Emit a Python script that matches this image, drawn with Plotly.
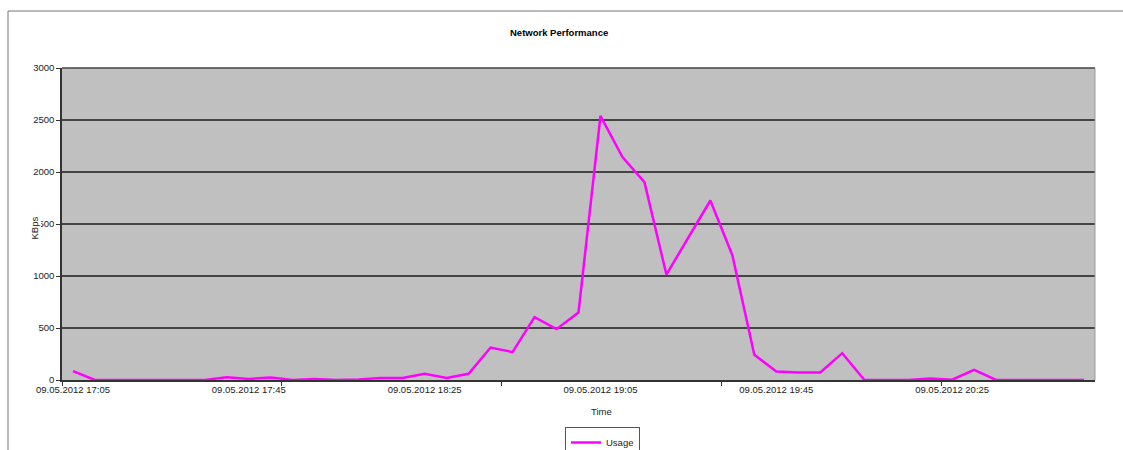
import plotly.graph_objects as go

# Sample times (5-minute intervals on 09.05.2012)
times = [
    "17:05", "17:10", "17:15", "17:20", "17:25", "17:30", "17:35", "17:40",
    "17:45", "17:50", "17:55", "18:00", "18:05", "18:10", "18:15", "18:20",
    "18:25", "18:30", "18:35", "18:40", "18:45", "18:50", "18:55", "19:00",
    "19:05", "19:10", "19:15", "19:20", "19:25", "19:30", "19:35", "19:40",
    "19:45", "19:50", "19:55", "20:00", "20:05", "20:10", "20:15", "20:20",
    "20:25", "20:30", "20:35", "20:40", "20:45", "20:50", "20:55",
]
day = "2012-05-09"

# Network usage in KBps
usage = [
    85, 0, 0, 0, 0, 0, 0, 27, 10, 25, 0, 10, 0, 5, 20, 20,
    60, 20, 60, 312, 268, 604, 489, 649, 2540, 2143, 1902, 1014, 1370, 1726, 1200, 242,
    82, 72, 72, 258, 3, 0, 0, 15, 3, 98, 0, 0, 0, 0, 0,
]

# Labelled times (every 8th sample)
label_times = times[::8]

x = [f"{day} {t}" for t in times]
tickvals = [f"{day} {t}" for t in label_times]

W, H = 1123, 450
L, R, T, B = 62, 28, 68, 70
pw, ph = W - L - R, H - T - B


def px(xp):
    return (xp - L) / pw


def py(yp):
    return (H - B - yp) / ph


font = "Liberation Sans, Arial, sans-serif"

fig = go.Figure()
fig.add_trace(go.Scatter(
    x=x, y=usage, mode="lines", name="Usage",
    line=dict(color="#FF00FF", width=2.5),
))

fig.update_layout(
    width=W, height=H,
    margin=dict(l=L, r=R, t=T, b=B, autoexpand=False),
    paper_bgcolor="white",
    plot_bgcolor="#C0C0C0",
    font=dict(family=font, size=9.5, color="#222"),
    showlegend=True,
    legend=dict(
        xref="container", yref="container",
        x=565 / W, y=1 - 427 / H, xanchor="left", yanchor="top",
        bordercolor="#555", borderwidth=1, bgcolor="white",
        font=dict(family=font, size=9.5, color="#222"),
        itemwidth=30,
    ),
    xaxis=dict(
        type="date",
        range=[f"{day} 17:02:30", f"{day} 20:57:30"],
        tickmode="array", tickvals=tickvals,
        tickformat="%d.%m.%Y %H:%M",
        ticks="", showgrid=False, zeroline=False,
        showline=True, linecolor="#333", linewidth=1.5,
        tickfont=dict(size=9.5, color="#222"),
        minor=dict(
            tickmode="linear", tick0=f"{day} 17:02:30", dtick=50 * 60 * 1000,
            ticks="outside", ticklen=4, tickcolor="#333", tickwidth=1,
            showgrid=False,
        ),
    ),
    yaxis=dict(
        range=[0, 3000], tick0=0, dtick=500,
        ticks="outside", ticklen=4, tickcolor="#333", tickwidth=1,
        showline=True, linecolor="#333", linewidth=1.5,
        showgrid=True, gridcolor="#444", gridwidth=1.5,
        zeroline=False,
        tickfont=dict(size=9.5, color="#222"),
    ),
    shapes=[
        # outer chart frame
        dict(type="rect", xref="paper", yref="paper",
             x0=px(8), x1=px(1140), y0=py(470), y1=py(11),
             line=dict(color="#777", width=1), layer="below"),
        # plot area top and right edges
        dict(type="line", xref="paper", yref="paper",
             x0=0, x1=1, y0=1, y1=1, line=dict(color="#444", width=1.5)),
        dict(type="line", xref="paper", yref="paper",
             x0=1, x1=1, y0=0, y1=1, line=dict(color="#999", width=1)),
    ],
    annotations=[
        dict(text="<b>Network Performance</b>", xref="paper", yref="paper",
             x=px(558.5), y=py(33), xanchor="center", yanchor="middle",
             showarrow=False, font=dict(size=9.5, color="#000")),
        dict(text="Time", xref="paper", yref="paper",
             x=px(601), y=py(411), xanchor="center", yanchor="middle",
             showarrow=False, font=dict(size=9.5, color="#222")),
        dict(text="KBps", xref="paper", yref="paper", textangle=-90,
             x=px(33.5), y=py(228), xanchor="center", yanchor="middle",
             showarrow=False, bgcolor="white",
             font=dict(size=9.5, color="#222")),
    ],
)

fig.write_html("out.html")
